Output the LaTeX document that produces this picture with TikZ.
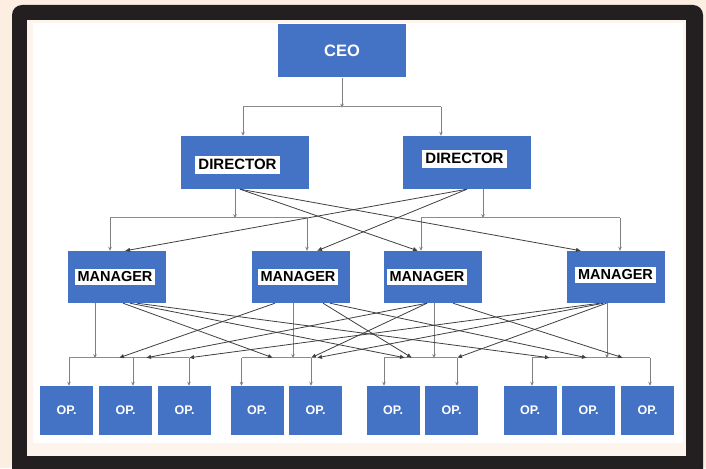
\documentclass[tikz,border=0pt]{standalone}
\usepackage{fontspec}
\setmainfont{Liberation Sans}
\usetikzlibrary{arrows.meta}
\definecolor{boxblue}{HTML}{4472C4}
\definecolor{paper}{HTML}{FCEFE1}
\definecolor{frame}{HTML}{231F20}

\begin{document}
\begin{tikzpicture}[x=1pt,y=-1pt,
    post/.style={fill=boxblue, inner sep=0pt, minimum width=128pt, minimum height=53pt},
    mgr/.style={post, minimum width=98pt, minimum height=52pt},
    op/.style={post, minimum width=53pt, minimum height=49pt, text=white,
      font=\fontsize{12.5}{14}\selectfont\bfseries},
    tag/.style={fill=white, inner xsep=3pt, inner ysep=0pt, minimum height=18pt,
      font=\fontsize{15}{17}\selectfont\bfseries},
    mtag/.style={tag, minimum height=16pt, font=\fontsize{14.5}{16}\selectfont\bfseries},
    feed/.style={draw=black!50, line width=0.7pt, -{Stealth[length=4pt,width=3.5pt]}},
    bus/.style={draw=black!45, line width=0.7pt},
    cross/.style={draw=black!75, line width=0.8pt, -{Latex[length=5pt,width=4.5pt]}}]

  % Frame
  \useasboundingbox (0,0) rectangle (706,468);
  \fill [paper] (0,0) rectangle (706,468);
  \fill [frame, rounded corners=10pt] (12,5) rectangle (703,490);
  \fill [paper!60!white] (27,20) rectangle (686,456);
  \fill [white] (33,23) rectangle (683,443);

  % Boxes
  \node[post, text=white, font=\fontsize{16.5}{18}\selectfont\bfseries] (ceo) at (342,51) {CEO};
  \node[post] (d1) at (245,162.5) {};
  \node[post] (d2) at (467,162.5) {};
  \node[tag] (d1l) at ([xshift=-7.5pt,yshift=-2pt]d1.center) {DIRECTOR};
  \node[tag] (d2l) at ([xshift=-2.5pt,yshift=4pt]d2.center) {DIRECTOR};

  \foreach \n/\x in {1/117,2/301,3/433,4/615.5}
    \node[mgr] (m\n) at (\x,277) {};
  \foreach \n/\s/\t in {1/-2/0,2/-3/0,3/-6/0,4/0/2.5}
    \node[mtag] (m\n l) at ([xshift=\s pt,yshift=\t pt]m\n.center) {MANAGER};

  \foreach \n/\x in {1/66.5,2/125.5,3/184.5,4/257,5/315.5,6/393,7/451.5,8/530,9/588.5,10/647.5}
    \node[op] (op\n) at (\x,410.5) {OP.};

  % CEO to directors
  \draw[feed] (ceo.south) -- ++(0,30);
  \draw[bus] ([xshift=-2pt,yshift=29pt]d1.north) -- ([xshift=-26pt,yshift=29pt]d2.north);
  \foreach \d/\s in {d1/-2,d2/-26}
    \draw[feed] ([xshift=\s pt,yshift=29pt]\d.north) -- ([xshift=\s pt]\d.north);

  % Directors to managers
  \draw[feed] ([xshift=-10pt]d1.south) -- ++(0,29);
  \draw[feed] ([xshift=16pt]d2.south) -- ++(0,29);
  \draw[bus] ([xshift=-7pt,yshift=33pt]m1.north) -- ([xshift=6pt,yshift=33pt]m2.north);
  \draw[bus] ([xshift=-12pt,yshift=33pt]m3.north) -- ([xshift=4.5pt,yshift=33pt]m4.north);
  \foreach \m/\s in {m1/-7,m2/6,m3/-12,m4/4.5}
    \draw[feed] ([xshift=\s pt,yshift=33pt]\m.north) -- ([xshift=\s pt]\m.north);
  \draw[cross] ([xshift=-5pt]d1.south) -- ([xshift=-15pt]m3.north);
  \draw[cross] ([xshift=-5pt]d1.south) -- ([xshift=-34.5pt]m4.north);
  \draw[cross] (d2.south) -- ([xshift=16pt]m2.north);
  \draw[cross] (d2.south) -- ([xshift=8pt]m1.north);

  % Managers to operators
  \foreach \m/\s in {m1/-22,m2/-8,m3/1,m4/-8.5}
    \draw[feed] ([xshift=\s pt]\m.south) -- ++(0,55);
  \draw[bus] ([xshift=2.5pt,yshift=28pt]op1.north) -- ([xshift=4.5pt,yshift=28pt]op3.north);
  \draw[bus] ([xshift=-15.5pt,yshift=28pt]op4.north) -- ([xshift=-4.5pt,yshift=28pt]op5.north);
  \draw[bus] ([xshift=-9pt,yshift=28pt]op6.north) -- ([xshift=5.5pt,yshift=28pt]op7.north);
  \draw[bus] ([xshift=2pt,yshift=28pt]op8.north) -- ([xshift=2.5pt,yshift=28pt]op10.north);
  \foreach \o/\s in {op1/2.5,op2/7.5,op3/4.5,op4/-15.5,op5/-4.5,op6/-9,op7/5.5,op8/2,op10/2.5}
    \draw[feed] ([xshift=\s pt,yshift=28pt]\o.north) -- ([xshift=\s pt]\o.north);

  % Cross links
  \foreach \m/\s/\o/\t in {m1/6/op4/16, m1/13/op6/12, m1/20/op8/20,
      m2/-26/op2/-6.5, m2/22/op6/19, m2/29/op9/-1.5,
      m3/-6/op2/20.5, m3/-6/op5/-4.5, m3/20/op10/-24.5,
      m4/-15.5/op3/4.5, m4/-12/op5/1.5, m4/-9/op7/5.5}
    \draw[cross] ([xshift=\s pt]\m.south) -- ([xshift=\t pt,yshift=28pt]\o.north);
\end{tikzpicture}
\end{document}
